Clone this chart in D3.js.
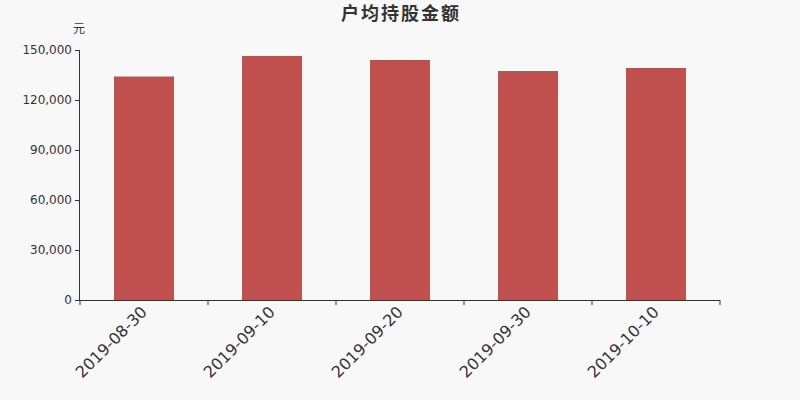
<!DOCTYPE html>
<html><head><meta charset="utf-8">
<script src="https://cdn.jsdelivr.net/npm/d3@7/dist/d3.min.js"></script>
<style>body{margin:0;background:#f8f8f8;}svg{display:block;font-family:"DejaVu Sans","Noto Sans CJK SC",sans-serif;}</style>
</head><body>
<svg id="c" width="800" height="400"></svg>
<script>
const categories = ["2019-08-30","2019-09-10","2019-09-20","2019-09-30","2019-10-10"];
const values = [134100,146400,144000,137400,139200];
const yTicks = [0,30000,60000,90000,120000,150000];
const title = "户均持股金额";
const unit = "元";

const svg = d3.select("#c");
svg.append("rect").attr("width",800).attr("height",400).attr("fill","#f8f8f8");
const m = {l:80,r:720,t:50,b:300};
const x = d3.scaleBand().domain(categories).range([m.l,m.r]);
const y = d3.scaleLinear().domain([0,150000]).range([m.b,m.t]);
const bw = 60;

svg.selectAll("rect.bar").data(values).enter().append("rect").attr("class","bar")
  .attr("x",(d,i)=>x(categories[i])+x.bandwidth()/2-bw/2)
  .attr("width",bw)
  .attr("y",d=>y(d)).attr("height",d=>y(0)-y(d))
  .attr("fill","#c0504d");

const ya = svg.append("g").attr("transform",`translate(${m.l},0)`)
  .call(d3.axisLeft(y).tickValues(yTicks).tickSize(5).tickPadding(3).tickFormat(d3.format(",")));
ya.selectAll("text").attr("fill","#333").style("font-size","12px").style("font-family","DejaVu Sans");
ya.selectAll("line,path").attr("stroke","#333");
ya.select("path").attr("d",`M-0.5,${m.t}V${m.b}`);

const xa = svg.append("g").attr("transform",`translate(0,${m.b})`)
  .call(d3.axisBottom(x).tickSize(0).tickFormat(""));
xa.select("path").attr("stroke","#333").attr("d",`M${m.l},0.5H${m.r}`);
const edges = d3.range(categories.length+1).map(i=>m.l+i*x.step());
xa.selectAll("line.edge").data(edges).enter().append("line").attr("class","edge")
  .attr("x1",d=>d).attr("x2",d=>d).attr("y1",0).attr("y2",5).attr("stroke","#333");
xa.selectAll("text.lbl").data(categories).enter().append("text").attr("class","lbl")
  .attr("transform",d=>`translate(${x(d)+x.bandwidth()/2-4},${5}) rotate(-45)`)
  .attr("text-anchor","end").attr("dy","0.71em")
  .attr("fill","#333").style("font-size","16px").style("font-family","DejaVu Sans")
  .text(d=>d);

svg.append("text").attr("x",401).attr("y",20).attr("text-anchor","middle")
  .attr("fill","#333").style("font-size","18px").style("font-weight","bold").style("letter-spacing","2px")
  .style("font-family","Noto Sans CJK SC").text(title);
svg.append("text").attr("x",79).attr("y",33).attr("text-anchor","middle")
  .attr("fill","#333").style("font-size","12px").style("font-family","Noto Sans CJK SC").text(unit);
</script></body></html>
